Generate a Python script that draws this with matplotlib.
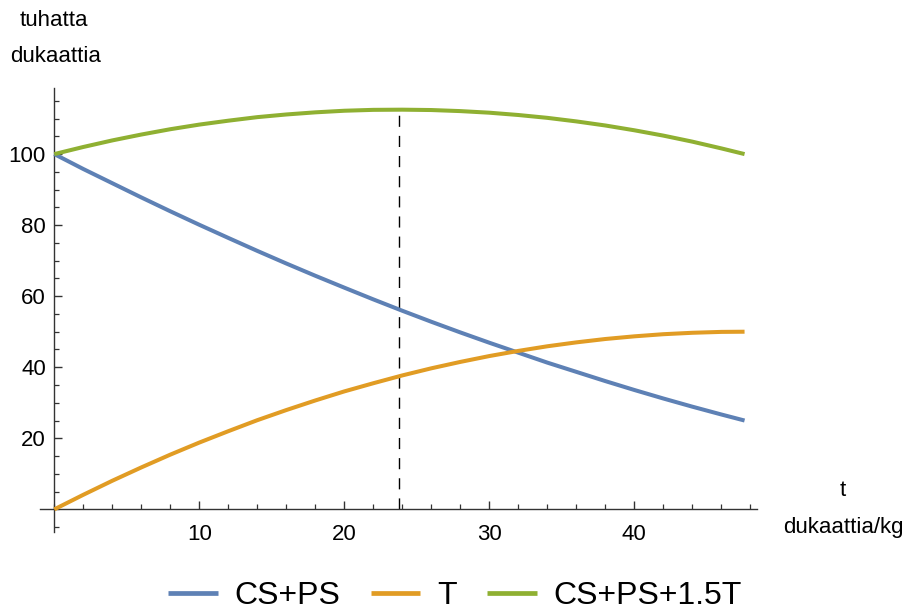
import matplotlib
matplotlib.use("Agg")
import matplotlib.pyplot as plt
from matplotlib.ticker import MultipleLocator, FixedLocator

plt.rcParams['font.family'] = ['Liberation Sans', 'DejaVu Sans']

# values
t = [0, 2, 4, 6, 8, 10, 12, 14, 16, 18, 20, 22, 24, 26, 28, 30, 32, 34, 36,
     38, 40, 42, 44, 46, 47.6]
cs_ps = [100.0, 95.8, 91.8, 87.8, 83.9, 80.1, 76.4, 72.75, 69.2, 65.75, 62.4,
         59.1, 55.9, 52.8, 49.8, 46.9, 44.1, 41.3, 38.7, 36.1, 33.6, 31.2,
         28.9, 26.7, 25.0]
tax = [0.0, 4.1, 8.05, 11.8, 15.4, 18.8, 22.0, 25.1, 27.95, 30.65, 33.2,
       35.5, 37.7, 39.7, 41.5, 43.15, 44.6, 45.9, 47.0, 47.95, 48.7, 49.3,
       49.7, 49.95, 50.0]
total = [100.0, 102.0, 103.85, 105.5, 107.0, 108.3, 109.4, 110.4, 111.15,
         111.75, 112.2, 112.45, 112.5, 112.4, 112.1, 111.65, 111.0, 110.2,
         109.2, 108.05, 106.7, 105.2, 103.5, 101.6, 100.0]
series_names = ["CS+PS", "T", "CS+PS+1.5T"]
opt_t = 23.8
opt_total = 112.5
x_ticks = [10, 20, 30, 40]
y_ticks = [20, 40, 60, 80, 100]

colors = ["#5E81B5", "#E19C24", "#8FB032"]

fig = plt.figure(figsize=(9.06, 6.15), dpi=100)
ax = fig.add_axes([0.04415, 0.1354, 0.7911, 0.7215])
ax.set_xlim(-0.986, 48.44)
ax.set_ylim(-6.3, 118.6)

lines = []
for y, c, n in zip([cs_ps, tax, total], colors, series_names):
    ln, = ax.plot(t, y, color=c, lw=2.9, label=n, solid_capstyle='butt',
                  solid_joinstyle='round', zorder=3)
    lines.append(ln)

ax.plot([opt_t, opt_t], [0, opt_total], color='black', lw=1.0,
        dashes=(8, 6.5), zorder=2)

for s in ['top', 'right']:
    ax.spines[s].set_visible(False)
ax.spines['left'].set_position(('data', 0))
ax.spines['bottom'].set_position(('data', 0))
for s in ['left', 'bottom']:
    ax.spines[s].set_color('#333333')
    ax.spines[s].set_linewidth(1.0)

ax.xaxis.set_major_locator(FixedLocator(x_ticks))
ax.xaxis.set_minor_locator(MultipleLocator(2))
ax.yaxis.set_major_locator(FixedLocator(y_ticks))
ax.yaxis.set_minor_locator(MultipleLocator(5))
ax.tick_params(axis='both', which='major', direction='in', length=6,
               width=1.0, color='#333333', labelsize=16)
ax.tick_params(axis='both', which='minor', direction='in', length=3.5,
               width=0.9, color='#333333')
ax.tick_params(axis='x', which='major', pad=10.5)
ax.tick_params(axis='y', which='major', pad=6)
ax.set_xticklabels([str(v) for v in x_ticks])
ax.set_yticklabels([str(v) for v in y_ticks])

fig.text(54 / 906, 1 - 20 / 615, "tuhatta", ha='center', va='center', fontsize=16)
fig.text(56 / 906, 1 - 56 / 615, "dukaattia", ha='center', va='center', fontsize=16)
fig.text(843 / 906, 1 - 490 / 615, "t", ha='center', va='center', fontsize=16)
fig.text(843 / 906, 1 - 528 / 615, "dukaattia/kg", ha='center', va='center', fontsize=16)

leg = fig.legend(handles=lines, loc='center', bbox_to_anchor=(455 / 906, 1 - 596 / 615),
                 ncol=3, frameon=False, fontsize=23, handlelength=1.56,
                 handletextpad=0.53, columnspacing=0.94, borderpad=0.0)
for h in leg.get_lines():
    h.set_linewidth(3.4)

fig.savefig("out.png", dpi=100)
